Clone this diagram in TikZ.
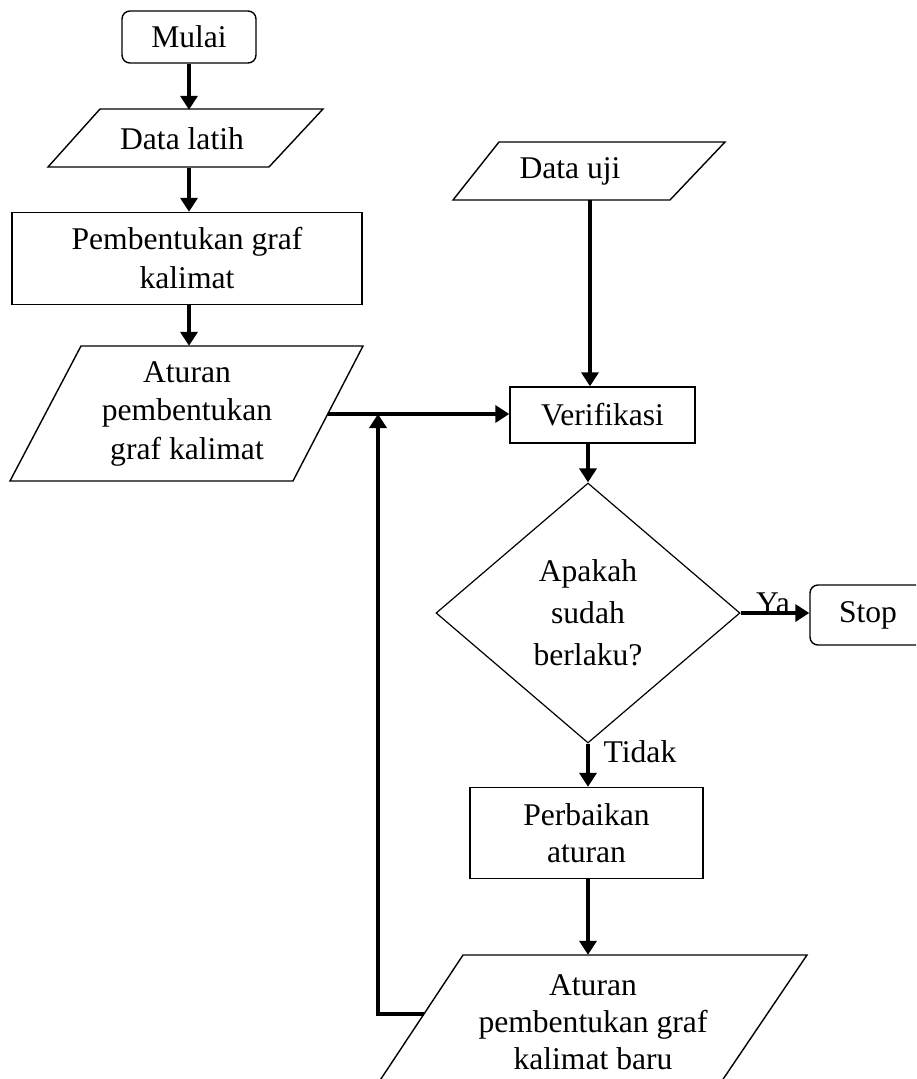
\documentclass[tikz,border=0pt]{standalone}
\usepackage{fontspec}
\setmainfont{Liberation Serif}
\usetikzlibrary{arrows.meta,shapes.geometric}
\tikzset{
  txt/.style={inner sep=0pt, align=center, font=\fontsize{31.6}{37}\selectfont},
  procbox/.style={txt, draw, line width=1.4pt},
  termbox/.style={procbox, rounded corners=8pt},
  iobox/.style={txt},
  shapeline/.style={line width=1.4pt, line join=miter},
  arr/.style={-{Triangle[length=14pt,width=17pt]}, line width=3.5pt}
}
\begin{document}
\begin{tikzpicture}[x=1pt,y=-1pt]
\useasboundingbox (0,0) rectangle (916,1079);
\clip (0,0) rectangle (916,1079);
% terminals and processes
\node[termbox, minimum width=134pt, minimum height=52pt] (mulai) at (189,37) {Mulai};
\node[iobox, minimum width=150pt, minimum height=58pt] (dl) at (182,139) {Data latih};
\draw[shapeline] (100,109) -- (323,109) -- (269,167) -- (48,167) -- cycle;
\node[procbox, minimum width=350pt, minimum height=92pt, font=\fontsize{31.6}{39}\selectfont] (pgk) at (187,258.5) {Pembentukan graf\\kalimat};
\node[iobox, minimum width=180pt, minimum height=135pt, font=\fontsize{31.6}{38.5}\selectfont] (apk) at (187,413.5) {Aturan\\pembentukan\\graf kalimat};
\draw[shapeline] (81,346) -- (363,346) -- (293,481) -- (10,481) -- cycle;
\coordinate (apkE) at (328,414);
\node[iobox, minimum width=150pt, minimum height=58pt] (du) at (570,171) {Data uji};
\draw[shapeline] (499,142) -- (725,142) -- (670,200) -- (453,200) -- cycle;
\coordinate (duS) at ([xshift=20pt]du.south);
\node[procbox, minimum width=185pt, minimum height=56pt] (verif) at (602.5,415) {Verifikasi};
\node[txt, shape=diamond, draw, line width=1.2pt, minimum width=304pt, minimum height=260pt, font=\fontsize{31.6}{42}\selectfont] (dec) at (588,613) {Apakah\\sudah\\berlaku?};
\node[termbox, minimum width=116pt, minimum height=60pt] (stop) at (868,615) {Stop};
\node[txt] (ya) at (773,603) {Ya};
\node[txt] (tidak) at (640,752) {Tidak};
\node[procbox, minimum width=233pt, minimum height=91pt] (perb) at (586.5,833) {Perbaikan\\aturan};
\node[iobox, minimum width=240pt, minimum height=134pt] (apkb) at (593,1022) {Aturan\\pembentukan graf\\kalimat baru};
\draw[shapeline] (463,955) -- (807,955) -- (709,1100) -- (367,1100) -- cycle;
\coordinate (fbS) at (424,1014);
\coordinate (fbB) at (378,1014);
\coordinate (fbT) at (378,414);
% connectors
\draw[arr] (mulai.south) -- (mulai.south |- dl.north);
\draw[arr] (dl.south -| mulai.south) -- (pgk.north -| mulai.south);
\draw[arr] (pgk.south -| mulai.south) -- (apk.north -| mulai.south);
\draw[arr] (apkE) -- (verif.west |- apkE);
\draw[arr] (duS) -- (verif.north -| duS);
\draw[arr] (dec.north |- verif.south) -- (dec.north);
\draw[arr] (dec.east) -- (dec.east -| stop.west);
\draw[arr] (dec.south) -- (dec.south |- perb.north);
\draw[arr] (dec.south |- perb.south) -- (dec.south |- apkb.north);
\draw[arr] (fbS) -- (fbB) -- (fbT);
\end{tikzpicture}
\end{document}
